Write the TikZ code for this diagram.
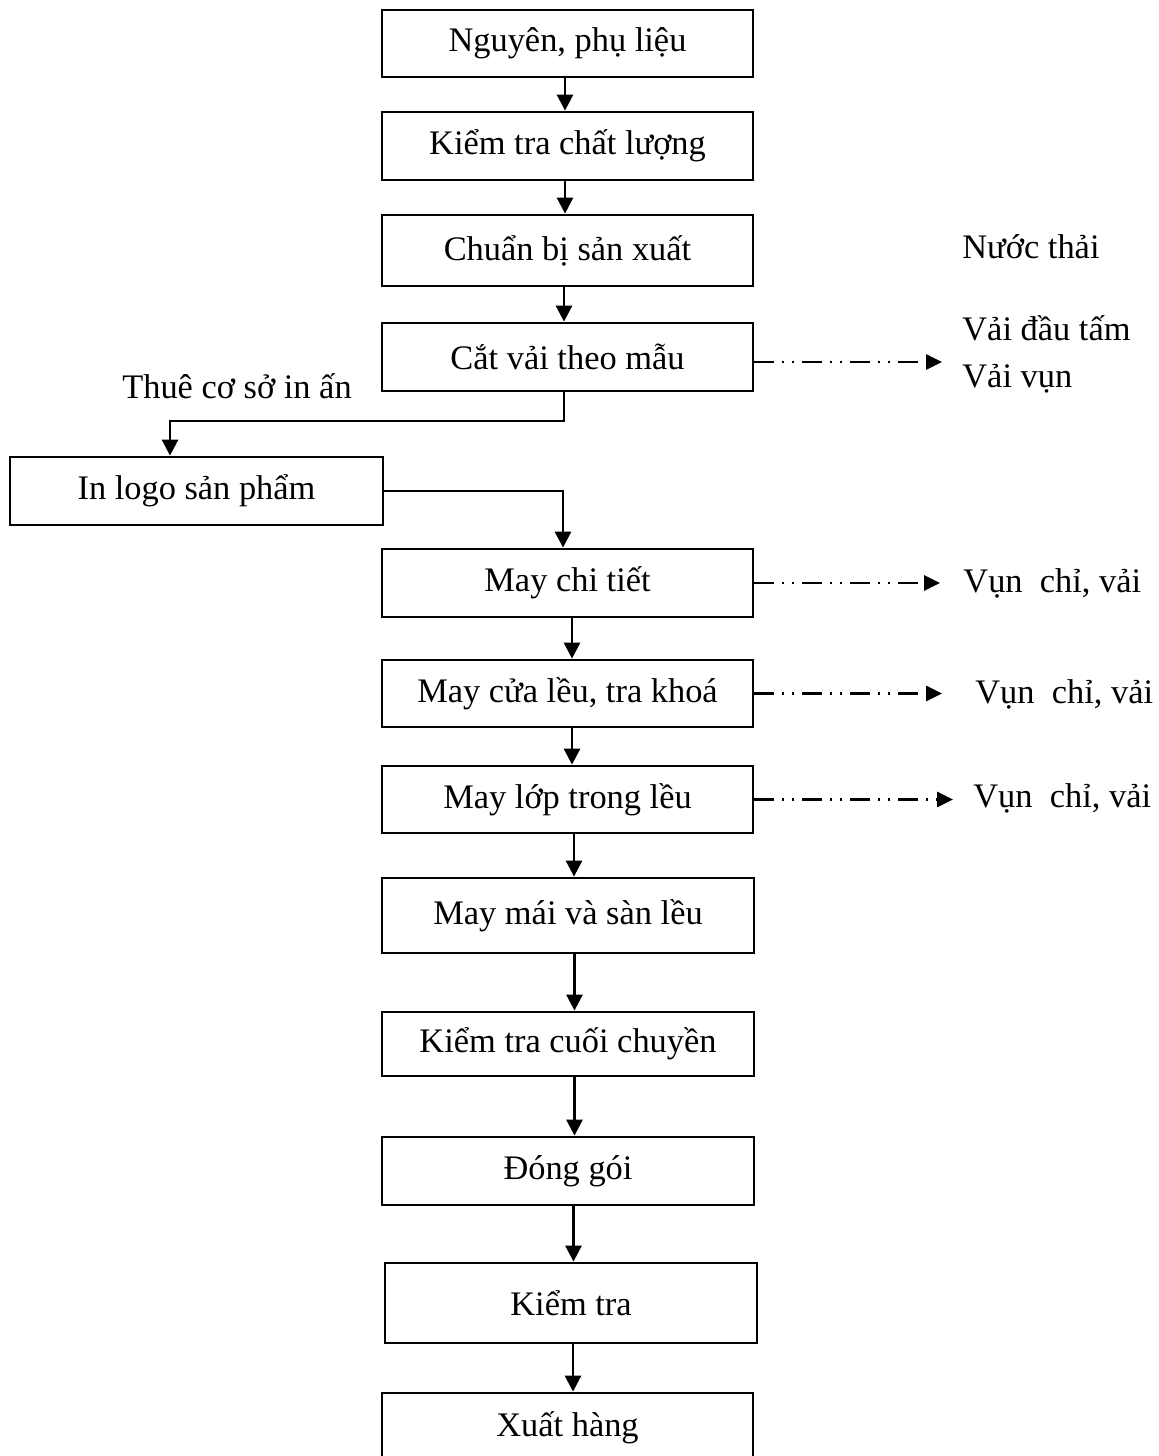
\documentclass[tikz,border=0pt]{standalone}
\usepackage{fontspec}
\setmainfont{Liberation Serif}
\usepackage{tikz}
\usetikzlibrary{arrows.meta}
\tikzset{every picture/.append style={font=\fontsize{17.2}{20}\selectfont}}
\tikzset{
  stepbox/.style={draw,line width=1.4pt,minimum width=185.5pt,minimum height=34pt,inner sep=0pt},
  flow/.style={line width=1.4pt,-{Triangle[length=8pt,width=8pt]}},
  waste/.style={line width=1.4pt,dash pattern=on 10pt off 4pt on 1pt off 4pt on 1pt off 4pt,-{Triangle[length=8pt,width=7.5pt]}},
  side/.style={anchor=base west,inner sep=0pt}
}

\begin{document}
\begin{tikzpicture}[x=0.5pt,y=-0.5pt]
    \useasboundingbox (0,0) rectangle (1159,1456);
    \node[stepbox,minimum height=33.5pt] (nguyen) at (567.5,43.5) {Nguyên, phụ liệu};
    \node[stepbox] (kiemcl) at (567.5,146) {Kiểm tra chất lượng};
    \node[stepbox,minimum height=35.5pt] (chuanbi) at (567.5,250.5) {Chuẩn bị sản xuất};
    \node[stepbox] (catvai) at (567.5,357) {Cắt vải theo mẫu};
    \node[stepbox,minimum width=186.5pt] (inlogo) at (196.5,491) {In logo sản phẩm};
    \node[stepbox] (maychitiet) at (567.5,583) {May chi tiết};
    \node[stepbox,minimum height=33.5pt] (maycua) at (567.5,693.5) {May cửa lều, tra khoá};
    \node[stepbox,minimum height=33.5pt] (maylop) at (567.5,799.5) {May lớp trong lều};
    \node[stepbox,minimum width=186pt,minimum height=37.5pt] (maymai) at (568,915.5) {May mái và sàn lều};
    \node[stepbox,minimum width=186pt,minimum height=32pt] (kiemcc) at (568,1044) {Kiểm tra cuối chuyền};
    \node[stepbox,minimum width=186pt] (donggoi) at (568,1171) {Đóng gói};
    \node[stepbox,minimum width=186pt,minimum height=40pt] (kiemtra) at (571,1303) {Kiểm tra};
    \node[stepbox,minimum height=35pt] (xuathang) at (567.5,1428) {Xuất hàng};

    \node[side] (nuocthai) at (962,258) {Nước thải};
    \node[side] (dautam) at (962,340) {Vải đầu tấm};
    \node[side] (vaivun) at (962,387) {Vải vụn};
    \node[side] (vun1) at (963,592) {Vụn\ \ chỉ, vải};
    \node[side] (vun2) at (975,703) {Vụn\ \ chỉ, vải};
    \node[side] (vun3) at (973,807) {Vụn\ \ chỉ, vải};
    \node[anchor=base,inner sep=0pt] (thue) at (237,398) {Thuê cơ sở in ấn};

    \foreach \a/\b/\dx in {nguyen/kiemcl/-1.25, kiemcl/chuanbi/-1.25, chuanbi/catvai/-1.75,
        maychitiet/maycua/2.25, maycua/maylop/2.25, maylop/maymai/3.25, maymai/kiemcc/3.25,
        kiemcc/donggoi/3.25, donggoi/kiemtra/2.75, kiemtra/xuathang/1}
      \draw[flow] ([xshift=\dx pt]\a.south) -- ([xshift=\dx pt]\a.south |- \b.north);

    \coordinate (bend1) at (170,421);
    \draw[flow] ([xshift=-1.75pt]catvai.south) |- (bend1) -- (inlogo.north -| bend1);
    \draw[flow] (inlogo.east) -| ([xshift=-2.25pt]maychitiet.north);

    \coordinate (w1) at (942,362);
    \coordinate (w2) at (940,583);
    \coordinate (w3) at (942,693.5);
    \coordinate (w4) at (953,799.5);
    \draw[waste] (catvai.east |- w1) -- (w1);
    \draw[waste] (maychitiet.east) -- (w2);
    \draw[waste] (maycua.east) -- (w3);
    \draw[waste] (maylop.east) -- (w4);
  \end{tikzpicture}
\end{document}
